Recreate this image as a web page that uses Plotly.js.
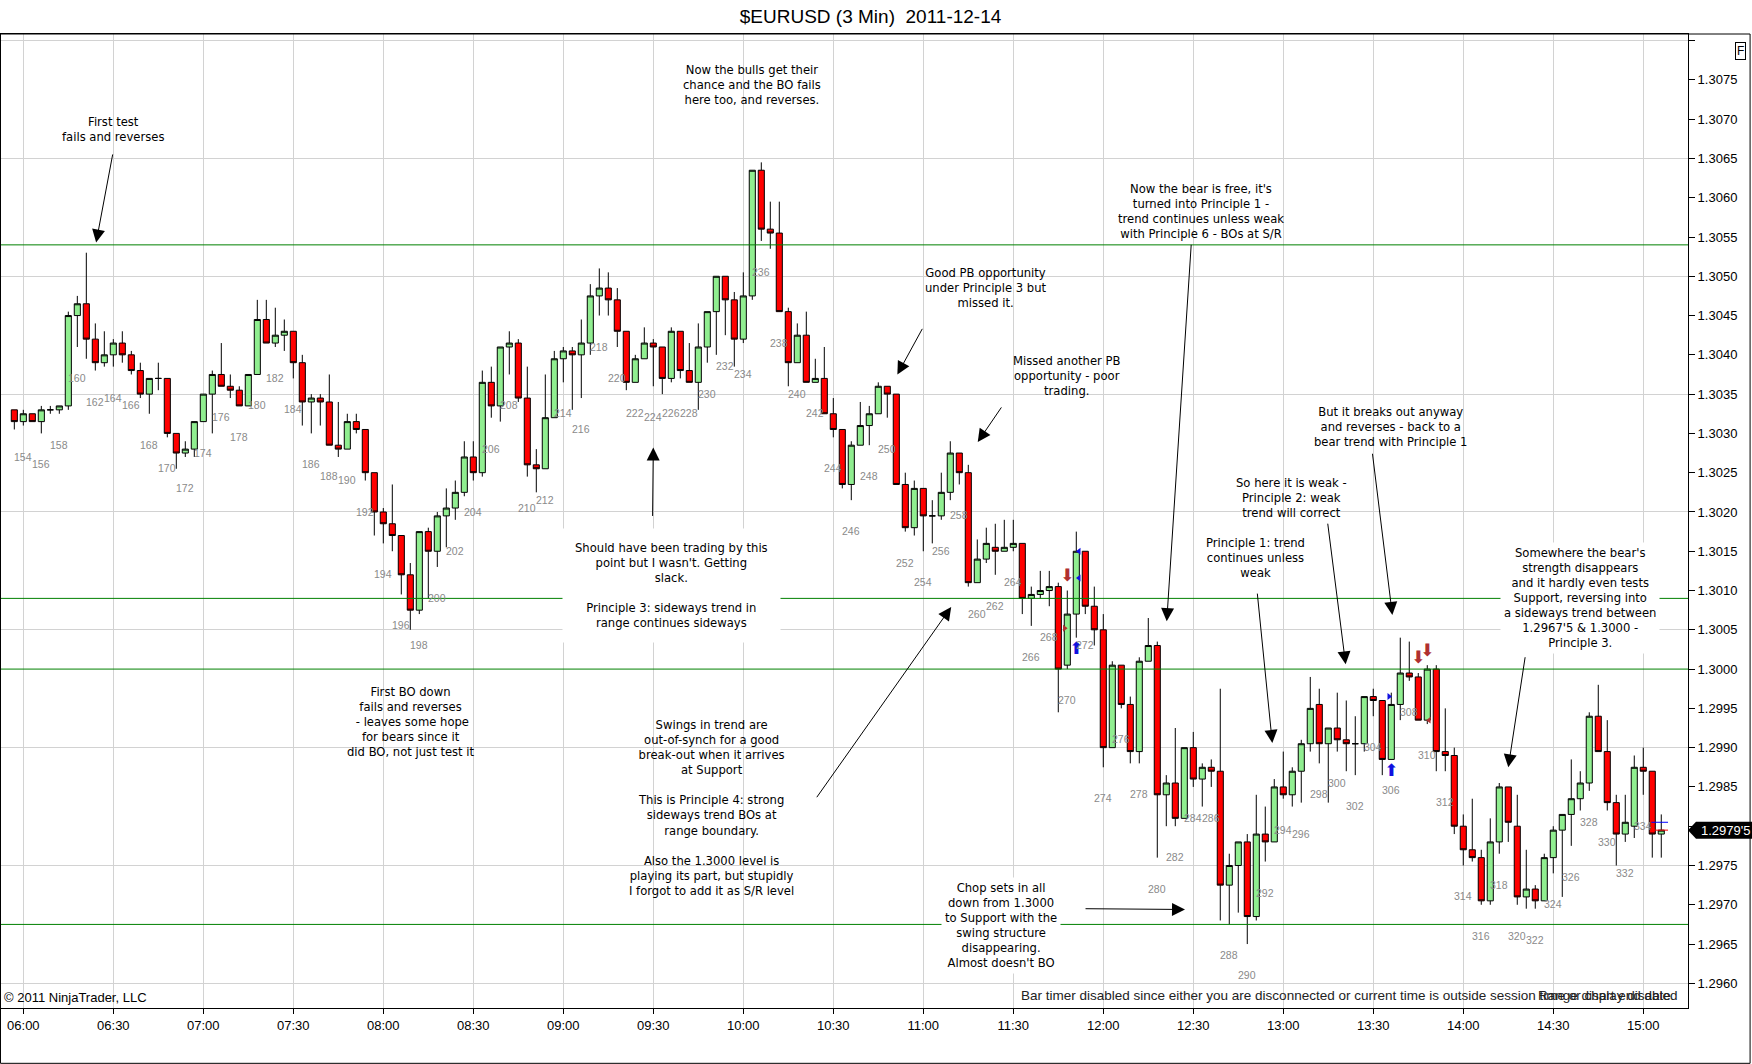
<!DOCTYPE html>
<html>
<head>
<meta charset="utf-8">
<script src="https://cdn.plot.ly/plotly-3.0.1.min.js"></script>
<style>
html, body { margin:0; padding:0; background:#fff; }
#chart { width:1752px; height:1064px; }
</style>
</head>
<body>
<div id="chart"></div>
<script>
// ---------------- DATA ----------------
const FIRST_BAR = 153;
const opens = [
1.30330,1.30315,1.30325,1.30315,1.30330,1.30330,1.30335,1.30450,1.30465,1.30420,
1.30390,1.30400,1.30415,1.30400,1.30380,1.30350,1.30370,1.30370,1.30300,1.30275,
1.30280,1.30315,1.30350,1.30375,1.30360,1.30355,1.30335,1.30375,1.30445,1.30415,
1.30425,1.30430,1.30390,1.30340,1.30345,1.30340,1.30285,1.30280,1.30315,1.30305,
1.30250,1.30200,1.30185,1.30170,1.30120,1.30075,1.30175,1.30150,1.30195,1.30205,
1.30225,1.30270,1.30250,1.30365,1.30335,1.30410,1.30415,1.30345,1.30260,1.30255,
1.30320,1.30395,1.30405,1.30400,1.30415,1.30475,1.30485,1.30470,1.30430,1.30365,
1.30395,1.30415,1.30410,1.30370,1.30430,1.30380,1.30365,1.30410,1.30455,1.30500,
1.30470,1.30420,1.30475,1.30635,1.30560,1.30555,1.30455,1.30390,1.30425,1.30365,
1.30370,1.30325,1.30305,1.30235,1.30285,1.30310,1.30325,1.30360,1.30350,1.30235,
1.30180,1.30230,1.30195,1.30195,1.30225,1.30275,1.30250,1.30110,1.30140,1.30155,
1.30150,1.30155,1.30160,1.30090,1.30095,1.30100,1.30105,1.30005,1.30070,1.30150,
1.30080,1.30050,1.29900,1.30005,1.29955,1.29895,1.30010,1.30030,1.29840,1.29855,
1.29810,1.29900,1.29860,1.29875,1.29870,1.29725,1.29750,1.29780,1.29685,1.29790,
1.29780,1.29850,1.29840,1.29870,1.29905,1.29955,1.29905,1.29925,1.29910,1.29905,
1.29905,1.29965,1.29960,1.29885,1.29955,1.29995,1.29990,1.29935,1.30000,1.29895,
1.29890,1.29800,1.29770,1.29760,1.29705,1.29780,1.29850,1.29800,1.29710,1.29720,
1.29705,1.29760,1.29795,1.29815,1.29835,1.29855,1.29940,1.29895,1.29830,1.29790,
1.29800,1.29875,1.29870,1.29790];
const highs = [
1.30330,1.30330,1.30325,1.30335,1.30335,1.30335,1.30455,1.30475,1.30530,1.30440,
1.30430,1.30420,1.30430,1.30405,1.30390,1.30370,1.30390,1.30370,1.30300,1.30290,
1.30315,1.30350,1.30380,1.30415,1.30375,1.30360,1.30375,1.30470,1.30470,1.30460,
1.30445,1.30430,1.30400,1.30350,1.30350,1.30375,1.30340,1.30325,1.30325,1.30305,
1.30250,1.30205,1.30235,1.30170,1.30135,1.30175,1.30180,1.30200,1.30230,1.30240,
1.30290,1.30290,1.30380,1.30385,1.30410,1.30430,1.30420,1.30385,1.30280,1.30375,
1.30405,1.30410,1.30410,1.30445,1.30490,1.30510,1.30505,1.30485,1.30430,1.30400,
1.30435,1.30420,1.30410,1.30435,1.30430,1.30415,1.30440,1.30455,1.30500,1.30500,
1.30480,1.30505,1.30635,1.30645,1.30595,1.30595,1.30460,1.30440,1.30455,1.30395,
1.30410,1.30345,1.30305,1.30290,1.30340,1.30335,1.30365,1.30360,1.30350,1.30250,
1.30240,1.30230,1.30215,1.30250,1.30290,1.30275,1.30260,1.30165,1.30180,1.30185,
1.30190,1.30190,1.30160,1.30105,1.30125,1.30125,1.30110,1.30100,1.30175,1.30150,
1.30105,1.30070,1.30010,1.30005,1.29965,1.30015,1.30065,1.30035,1.29865,1.29925,
1.29900,1.29920,1.29880,1.29885,1.29975,1.29765,1.29780,1.29790,1.29840,1.29825,
1.29860,1.29895,1.29875,1.29910,1.29990,1.29975,1.29925,1.29970,1.29960,1.29940,
1.29965,1.29975,1.29960,1.29970,1.30040,1.30035,1.29995,1.30005,1.30005,1.29950,
1.29900,1.29815,1.29835,1.29770,1.29810,1.29855,1.29850,1.29840,1.29770,1.29725,
1.29765,1.29800,1.29815,1.29885,1.29870,1.29945,1.29980,1.29935,1.29840,1.29840,
1.29890,1.29900,1.29870,1.29815];
const lows = [
1.30305,1.30310,1.30315,1.30300,1.30325,1.30325,1.30330,1.30410,1.30395,1.30380,
1.30385,1.30385,1.30390,1.30375,1.30345,1.30325,1.30355,1.30295,1.30255,1.30270,
1.30270,1.30315,1.30300,1.30360,1.30345,1.30335,1.30335,1.30375,1.30415,1.30410,
1.30405,1.30370,1.30310,1.30300,1.30310,1.30285,1.30270,1.30280,1.30300,1.30240,
1.30170,1.30160,1.30150,1.30095,1.30050,1.30070,1.30090,1.30130,1.30155,1.30190,
1.30220,1.30240,1.30245,1.30320,1.30315,1.30375,1.30340,1.30245,1.30225,1.30255,
1.30320,1.30365,1.30330,1.30345,1.30400,1.30450,1.30450,1.30410,1.30355,1.30365,
1.30395,1.30360,1.30350,1.30365,1.30370,1.30365,1.30330,1.30390,1.30400,1.30425,
1.30385,1.30415,1.30470,1.30545,1.30535,1.30455,1.30360,1.30390,1.30365,1.30365,
1.30325,1.30295,1.30230,1.30215,1.30285,1.30285,1.30325,1.30320,1.30235,1.30175,
1.30170,1.30150,1.30160,1.30190,1.30215,1.30235,1.30105,1.30110,1.30135,1.30120,
1.30150,1.30150,1.30070,1.30055,1.30090,1.30080,1.29945,1.30000,1.30040,1.30070,
1.30030,1.29875,1.29900,1.29950,1.29880,1.29880,1.30010,1.29760,1.29800,1.29800,
1.29810,1.29850,1.29825,1.29850,1.29680,1.29675,1.29690,1.29650,1.29680,1.29755,
1.29780,1.29835,1.29825,1.29830,1.29895,1.29880,1.29830,1.29895,1.29870,1.29865,
1.29895,1.29940,1.29865,1.29885,1.29935,1.29985,1.29935,1.29930,1.29870,1.29870,
1.29790,1.29750,1.29755,1.29700,1.29700,1.29765,1.29780,1.29700,1.29695,1.29695,
1.29705,1.29740,1.29710,1.29775,1.29820,1.29845,1.29895,1.29820,1.29750,1.29780,
1.29785,1.29840,1.29760,1.29760];
const closes = [
1.30315,1.30325,1.30315,1.30330,1.30330,1.30335,1.30450,1.30465,1.30420,1.30390,
1.30400,1.30415,1.30400,1.30380,1.30350,1.30370,1.30370,1.30300,1.30275,1.30280,
1.30315,1.30350,1.30375,1.30360,1.30355,1.30335,1.30375,1.30445,1.30415,1.30425,
1.30430,1.30390,1.30340,1.30345,1.30340,1.30285,1.30280,1.30315,1.30305,1.30250,
1.30200,1.30185,1.30170,1.30120,1.30075,1.30175,1.30150,1.30195,1.30205,1.30225,
1.30270,1.30250,1.30365,1.30335,1.30410,1.30415,1.30345,1.30260,1.30255,1.30320,
1.30395,1.30405,1.30400,1.30415,1.30475,1.30485,1.30470,1.30430,1.30365,1.30395,
1.30415,1.30410,1.30370,1.30430,1.30380,1.30365,1.30410,1.30455,1.30500,1.30470,
1.30420,1.30475,1.30635,1.30560,1.30555,1.30455,1.30390,1.30425,1.30365,1.30370,
1.30325,1.30305,1.30235,1.30285,1.30310,1.30325,1.30360,1.30350,1.30235,1.30180,
1.30230,1.30195,1.30195,1.30225,1.30275,1.30250,1.30110,1.30140,1.30160,1.30150,
1.30155,1.30160,1.30090,1.30095,1.30100,1.30105,1.30000,1.30070,1.30150,1.30080,
1.30050,1.29900,1.30005,1.29955,1.29895,1.30010,1.30030,1.29840,1.29855,1.29810,
1.29900,1.29860,1.29875,1.29870,1.29725,1.29750,1.29780,1.29685,1.29790,1.29780,
1.29850,1.29840,1.29870,1.29905,1.29950,1.29905,1.29925,1.29910,1.29905,1.29905,
1.29965,1.29960,1.29885,1.29955,1.29995,1.29990,1.29935,1.30000,1.29895,1.29890,
1.29800,1.29770,1.29760,1.29705,1.29780,1.29850,1.29805,1.29710,1.29720,1.29705,
1.29760,1.29795,1.29815,1.29835,1.29855,1.29940,1.29895,1.29830,1.29790,1.29805,
1.29875,1.29870,1.29790,1.29795];

const srLevels = [1.30540, 1.30090, 1.30000, 1.29675];

const timeTickBars = [154,164,174,184,194,204,214,224,234,244,254,264,274,284,294,304,314,324,334];
const timeTickLabels = ['06:00','06:30','07:00','07:30','08:00','08:30','09:00','09:30','10:00','10:30',
  '11:00','11:30','12:00','12:30','13:00','13:30','14:00','14:30','15:00'];

const priceTickVals = [1.2960,1.2965,1.2970,1.2975,1.2980,1.2985,1.2990,1.2995,1.3000,1.3005,1.3010,1.3015,
  1.3020,1.3025,1.3030,1.3035,1.3040,1.3045,1.3050,1.3055,1.3060,1.3065,1.3070,1.3075,1.3080];
const priceTickLabels = ['1.2960','1.2965','1.2970','1.2975','1.2980','1.2985','1.2990','1.2995','1.3000','1.3005',
  '1.3010','1.3015','1.3020','1.3025','1.3030','1.3035','1.3040','1.3045','1.3050','1.3055','1.3060','1.3065',
  '1.3070','1.3075',''];

// execution markers
const sellArrowBars = [270, 309, 310];
const sellArrowPrices = [1.30117, 1.30013, 1.30022];
const buyArrowBars = [271, 306];
const buyArrowPrices = [1.30024, 1.29869];
const leftTriBars = [271.3, 271.3, 310.2];
const leftTriPrices = [1.30150, 1.30116, 1.29935];
const leftTriColors = ['#1010e0', '#1010e0', '#b03030'];
const rightTriBars = [269.7, 305.75];
const rightTriPrices = [1.30052, 1.29965];
const rightTriColors = ['#b03030', '#1010e0'];

const askPrice = 1.29805;
const bidPrice = 1.29795;

// ---------------- BUILD ----------------
const FONT = 'Liberation Sans, Arial, sans-serif';
const NOTE_FONT = 'DejaVu Sans, Verdana, sans-serif';
const barNumbers = opens.map((_, i) => FIRST_BAR + i);
const lastBar = barNumbers[barNumbers.length - 1];
const lastClose = closes[closes.length - 1];

const traces = [];
traces.push({
  type: 'candlestick',
  x: barNumbers, open: opens, high: highs, low: lows, close: closes,
  increasing: { line: { color: '#000000', width: 1 }, fillcolor: '#90EE90' },
  decreasing: { line: { color: '#000000', width: 1 }, fillcolor: '#FF0000' },
  whiskerwidth: 0, hoverinfo: 'none', showlegend: false
});
traces.push({
  type: 'scatter', mode: 'text', x: sellArrowBars, y: sellArrowPrices, yaxis: 'y2',
  text: sellArrowBars.map(() => '\u2B07'), textposition: 'middle center',
  textfont: { family: 'DejaVu Sans', size: 17, color: '#b03030' }, hoverinfo: 'none', showlegend: false
});
traces.push({
  type: 'scatter', mode: 'text', x: buyArrowBars, y: buyArrowPrices, yaxis: 'y2',
  text: buyArrowBars.map(() => '\u2B06'), textposition: 'middle center',
  textfont: { family: 'DejaVu Sans', size: 17, color: '#1010e0' }, hoverinfo: 'none', showlegend: false
});
traces.push({
  type: 'scatter', mode: 'markers', x: leftTriBars, y: leftTriPrices, yaxis: 'y2',
  marker: { symbol: 'triangle-left', size: 6, color: leftTriColors }, hoverinfo: 'none', showlegend: false
});
traces.push({
  type: 'scatter', mode: 'markers', x: rightTriBars, y: rightTriPrices, yaxis: 'y2',
  marker: { symbol: 'triangle-right', size: 6, color: rightTriColors }, hoverinfo: 'none', showlegend: false
});
traces.push({
  type: 'scatter', mode: 'lines', x: [lastBar - 1.1, lastBar + 0.75], y: [askPrice, askPrice], yaxis: 'y2',
  line: { color: '#0000ff', width: 1 }, hoverinfo: 'none', showlegend: false
});
traces.push({
  type: 'scatter', mode: 'lines', x: [lastBar - 1.1, lastBar + 0.75], y: [bidPrice, bidPrice], yaxis: 'y2',
  line: { color: '#ff0000', width: 1 }, hoverinfo: 'none', showlegend: false
});

const annotations = [];
// bar numbers (every second bar) below the lows
barNumbers.forEach((b, i) => {
  if (b % 2 === 0 && b < lastBar) {
    annotations.push({
      x: b, y: lows[i], xref: 'x', yref: 'y', yshift: -31, showarrow: false,
      text: String(b), font: { family: FONT, size: 10.5, color: '#8a8a8a' }
    });
  }
});

const notes = [
  { text: 'First test<br>fails and reverses', x: 164.0, y: 1.30687 },
  { text: 'Now the bulls get their<br>chance and the BO fails<br>here too, and reverses.', x: 234.97, y: 1.30744 },
  { text: "Now the bear is free, it's<br>turned into Principle 1 -<br>trend continues unless weak<br>with Principle 6 - BOs at S/R", x: 284.89, y: 1.30583 },
  { text: 'Good PB opportunity<br>under Principle 3 but<br>missed it.', x: 260.92, y: 1.30485 },
  { text: 'Missed another PB<br>opportunity - poor<br>trading.', x: 269.86, y: 1.30373 },
  { text: 'But it breaks out anyway<br>and reverses - back to a<br>bear trend with Principle 1', x: 305.93, y: 1.30308 },
  { text: 'So here it is weak -<br>Principle 2: weak<br>trend will correct', x: 294.94, y: 1.30218 },
  { text: 'Principle 1: trend<br>continues unless<br>weak', x: 290.91, y: 1.30141 },
  { text: "Should have been trading by this<br>point but I wasn't. Getting<br>slack.<br> <br>Principle 3: sideways trend in<br>range continues sideways", x: 225.97, y: 1.30106, bg: true, pad: 12 },
  { text: 'First BO down<br>fails and reverses<br>\u00a0- leaves some hope<br>for bears since it<br>did BO, not just test it', x: 197.1, y: 1.29933 },
  { text: 'Swings in trend are<br>out-of-synch for a good<br>break-out when it arrives<br>at Support<br> <br>This is Principle 4: strong<br>sideways trend BOs at<br>range boundary.<br> <br>Also the 1.3000 level is<br>playing its part, but stupidly<br>I forgot to add it as S/R level', x: 230.5, y: 1.29823 },
  { text: "Chop sets in all<br>down from 1.3000<br>to Support with the<br>swing structure<br>disappearing.<br>Almost doesn't BO", x: 262.67, y: 1.29674, bg: true, pad: 3 },
  { text: "Somewhere the bear's<br>strength disappears<br>and it hardly even tests<br>Support, reversing into<br>a sideways trend between<br>1.2967'5 &amp; 1.3000 -<br>Principle 3.", x: 326.98, y: 1.30090, bg: true, pad: 3 }
];
notes.forEach(n => {
  annotations.push({
    x: n.x, y: n.y, xref: 'x', yref: 'y', showarrow: false, text: n.text, align: 'center',
    font: { family: NOTE_FONT, size: 11.6, color: '#000' },
    bgcolor: n.bg ? '#ffffff' : 'rgba(0,0,0,0)', borderpad: n.pad || 1
  });
});

const arrows = [
  { x: 162.09, y: 1.30543, ax: 163.96, ay: 1.30657 },
  { x: 281.05, y: 1.30061, ax: 283.78, ay: 1.30542 },
  { x: 251.12, y: 1.30375, ax: 253.98, ay: 1.30435 },
  { x: 260.05, y: 1.30289, ax: 262.79, ay: 1.30335 },
  { x: 306.12, y: 1.30069, ax: 303.89, ay: 1.30276 },
  { x: 300.93, y: 1.30006, ax: 298.92, ay: 1.30187 },
  { x: 292.78, y: 1.29906, ax: 291.10, ay: 1.30098 },
  { x: 224.00, y: 1.30282, ax: 223.92, ay: 1.30193 },
  { x: 257.10, y: 1.30079, ax: 242.05, ay: 1.29835 },
  { x: 283.08, y: 1.29694, ax: 271.86, ay: 1.29695 },
  { x: 319.00, y: 1.29875, ax: 320.90, ay: 1.30017 }
];
arrows.forEach(a => {
  annotations.push({
    x: a.x, y: a.y, ax: a.ax, ay: a.ay, xref: 'x', yref: 'y', axref: 'x', ayref: 'y',
    text: '', showarrow: true, arrowhead: 2, arrowsize: 2.6, arrowwidth: 1, arrowcolor: '#000',
    standoff: 0, startstandoff: 0
  });
});

// last-price marker text
const lp = lastClose.toFixed(5);
const lastPriceText = lp.slice(0, 6) + "'" + lp.slice(6);
annotations.push({
  x: 1, y: lastClose, xref: 'paper', yref: 'y', xanchor: 'left', xshift: 11, showarrow: false,
  text: lastPriceText, font: { family: FONT, size: 13, color: '#ffffff' }
});
// F box
annotations.push({
  x: 1.0345, y: 0.9918, xref: 'paper', yref: 'paper', showarrow: false, text: 'F',
  font: { family: FONT, size: 12, color: '#000' }, bordercolor: '#000', borderwidth: 1, borderpad: 1,
  bgcolor: '#fff'
});
// copyright and status texts
annotations.push({
  x: 0, y: 0, xref: 'paper', yref: 'paper', xanchor: 'left', yanchor: 'bottom', xshift: 1, yshift: 1,
  showarrow: false, text: '\u00a9 2011 NinjaTrader, LLC', font: { family: FONT, size: 13, color: '#000' }
});
annotations.push({
  x: 0.6032, y: 0.0128, xref: 'paper', yref: 'paper', xanchor: 'left', yanchor: 'middle', showarrow: false,
  text: 'Bar timer disabled since either you are disconnected or current time is outside session time or chart end date',
  font: { family: FONT, size: 13.5, color: '#222' }
});
annotations.push({
  x: 0.9953, y: 0.0128, xref: 'paper', yref: 'paper', xanchor: 'right', yanchor: 'middle', showarrow: false,
  text: 'Range display disabled', font: { family: FONT, size: 13.5, color: '#222' }
});

const shapes = srLevels.map(v => ({
  type: 'line', xref: 'paper', x0: 0, x1: 1, yref: 'y', y0: v, y1: v,
  line: { color: '#008000', width: 1 }, layer: 'above'
}));
// outer frame
shapes.push({ type: 'rect', xref: 'paper', yref: 'paper', x0: -0.0003, x1: 1.0368, y0: -0.0568, y1: 1,
  line: { color: '#000', width: 1 }, fillcolor: 'rgba(0,0,0,0)', layer: 'above' });
// last price marker box
shapes.push({
  type: 'path', xref: 'paper', xsizemode: 'pixel', xanchor: 1, yref: 'y', ysizemode: 'pixel', yanchor: lastClose,
  path: 'M 0 0 L 8 8.5 L 64 8.5 L 64 -8.5 L 8 -8.5 Z', fillcolor: '#000', line: { width: 0 }, layer: 'above'
});

const layout = {
  width: 1752, height: 1064,
  margin: { l: 1, r: 64, t: 34, b: 56, pad: 0 },
  paper_bgcolor: '#ffffff', plot_bgcolor: '#ffffff',
  font: { family: FONT, size: 13, color: '#000' },
  title: { text: '$EURUSD (3 Min)\u00a0 2011-12-14', x: 0.4969, xref: 'container', y: 0.985, yref: 'container',
    xanchor: 'center', yanchor: 'middle', font: { family: FONT, size: 19, color: '#000' } },
  showlegend: false,
  boxgap: 0.25, boxgroupgap: 0.1,
  xaxis: {
    range: [151.52, 338.97], tickmode: 'array', tickvals: timeTickBars, ticktext: timeTickLabels,
    ticks: 'outside', ticklen: 5, tickcolor: '#000', showgrid: true, gridcolor: '#d2d2d2', gridwidth: 1,
    showline: true, linecolor: '#000', linewidth: 1, mirror: true, zeroline: false,
    tickfont: { family: FONT, size: 13, color: '#000' }, rangeslider: { visible: false }, fixedrange: true
  },
  yaxis: {
    side: 'right', range: [1.295686, 1.308084], tickmode: 'array', tickvals: priceTickVals, ticktext: priceTickLabels,
    ticks: 'outside', ticklen: 6, tickcolor: '#000', showgrid: false, showline: true, linecolor: '#000',
    linewidth: 1, mirror: true, zeroline: false, tickfont: { family: FONT, size: 13, color: '#000' }, fixedrange: true
  },
  yaxis2: {
    overlaying: 'y', matches: 'y', side: 'right', tick0: 1.2960, dtick: 0.0015, showgrid: true,
    gridcolor: '#d2d2d2', gridwidth: 1, showticklabels: false, ticks: '', showline: false, zeroline: false
  },
  annotations: annotations,
  shapes: shapes
};

Plotly.newPlot('chart', traces, layout, { displayModeBar: false, staticPlot: true });
</script>
</body>
</html>
